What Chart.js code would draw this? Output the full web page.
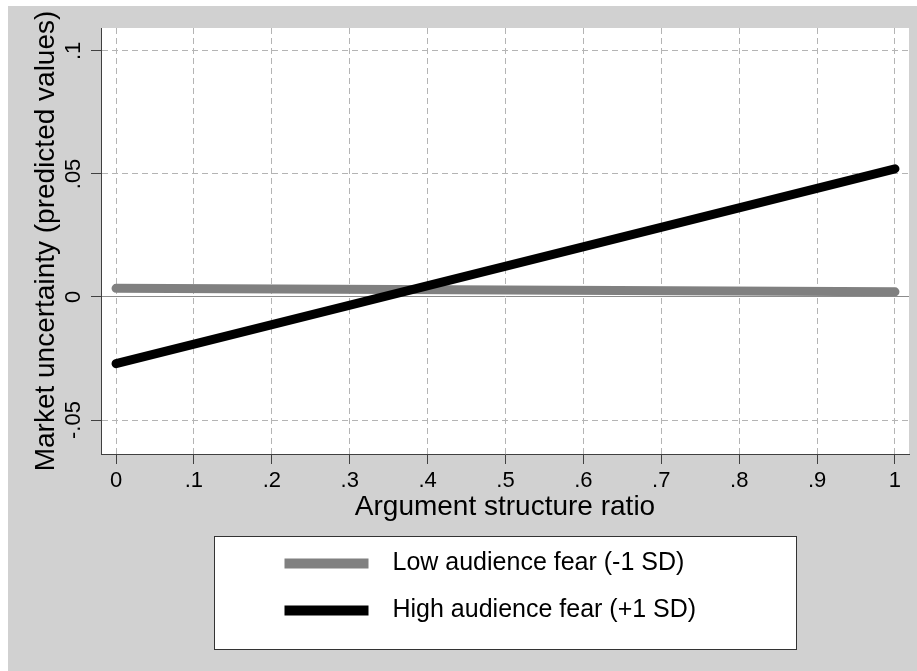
<!DOCTYPE html>
<html>
<head>
<meta charset="utf-8">
<title>Market uncertainty</title>
<script src="https://cdn.jsdelivr.net/npm/chart.js@4.4.1/dist/chart.umd.min.js"></script>
<style>
  html, body { margin: 0; padding: 0; background: #fff; }
  #wrap { position: absolute; left: 8px; top: 6px; width: 909px; height: 665px; background: #d1d1d1; }
  #chart { display: block; }
</style>
</head>
<body>
<div id="wrap"><canvas id="chart" width="909" height="665"></canvas></div>
<script>
// --- DADOS ---
const xValues = [0, 1];
const lowFear = [0.0035, 0.0021];
const highFear = [-0.0271, 0.0521];

const xTickValues = [0, 0.1, 0.2, 0.3, 0.4, 0.5, 0.6, 0.7, 0.8, 0.9, 1];
const xTickLabels = ['0', '.1', '.2', '.3', '.4', '.5', '.6', '.7', '.8', '.9', '1'];
const yTickValues = [-0.05, 0, 0.05, 0.1];
const yTickLabels = ['-.05', '0', '.05', '.1'];

const seriesNames = ['Low audience fear (-1 SD)', 'High audience fear (+1 SD)'];

const FONT = "'Liberation Sans', Arial, sans-serif";

// fundo branco só na área do gráfico
const plotBg = {
    id: 'plotBg',
    beforeDraw(chart) {
        const { ctx, chartArea: a } = chart;
        ctx.save();
        ctx.fillStyle = '#fff';
        ctx.fillRect(a.left, a.top, a.right - a.left, a.bottom - a.top);
        ctx.restore();
    }
};

// legenda em caixa, abaixo do título do eixo x
const boxLegend = {
    id: 'boxLegend',
    afterDraw(chart) {
        const { ctx, chartArea: a } = chart;
        const cx = (a.left + a.right) / 2;
        const boxW = 582, boxH = 113;
        const bx = Math.round(cx - boxW / 2) + 0.5, by = a.bottom + 82.5;
        ctx.save();
        ctx.fillStyle = '#fff';
        ctx.fillRect(bx, by, boxW, boxH);
        ctx.strokeStyle = '#333';
        ctx.lineWidth = 1;
        ctx.strokeRect(bx, by, boxW, boxH);
        ctx.font = '25px ' + FONT;
        ctx.textBaseline = 'middle';
        ctx.fillStyle = '#000';
        chart.data.datasets.forEach((ds, i) => {
            const y = by + 27 + i * 47;
            ctx.strokeStyle = ds.borderColor;
            ctx.lineWidth = 10;
            ctx.lineCap = 'butt';
            ctx.beginPath();
            ctx.moveTo(bx + 70, y);
            ctx.lineTo(bx + 154, y);
            ctx.stroke();
            ctx.fillText(ds.label, bx + 178, y);
        });
        ctx.restore();
    }
};

new Chart(document.getElementById('chart'), {
    type: 'line',
    data: {
        datasets: [
            { label: seriesNames[0], data: xValues.map((x, i) => ({ x, y: lowFear[i] })), borderColor: '#808080', borderWidth: 9, order: 1 },
            { label: seriesNames[1], data: xValues.map((x, i) => ({ x, y: highFear[i] })), borderColor: '#000', borderWidth: 9, order: 0 }
        ]
    },
    options: {
        responsive: false,
        animation: false,
        events: [],
        layout: { padding: { left: 0, top: 22, right: 8, bottom: 147 } },
        elements: {
            point: { radius: 0 },
            line: { tension: 0, borderCapStyle: 'round', fill: false }
        },
        plugins: { legend: { display: false }, tooltip: { enabled: false } },
        scales: {
            x: {
                type: 'linear',
                min: -0.0193, max: 1.018,
                afterBuildTicks: s => { s.ticks = xTickValues.map(v => ({ value: v })); },
                afterFit: s => { s.height = 70; },
                ticks: {
                    color: '#000', padding: 4, maxRotation: 0, autoSkip: false,
                    font: { family: FONT, size: 22 },
                    callback: (v, i) => xTickLabels[i]
                },
                grid: {
                    color: '#b4b4b4', lineWidth: 1, tickLength: 10,
                    tickColor: '#404040', tickWidth: 1, tickBorderDash: []
                },
                border: { display: true, color: '#404040', width: 1, dash: [6, 4] },
                title: {
                    display: true, text: 'Argument structure ratio', color: '#000',
                    font: { family: FONT, size: 28 }, padding: { top: 0, bottom: 0 }
                }
            },
            y: {
                type: 'linear',
                min: -0.0638, max: 0.1093,
                afterBuildTicks: s => { s.ticks = yTickValues.map(v => ({ value: v })); },
                afterFit: s => { s.width = 93; },
                ticks: {
                    color: '#000', padding: -2, minRotation: 90, maxRotation: 90, crossAlign: 'center',
                    font: { family: FONT, size: 22 },
                    callback: (v, i) => yTickLabels[i]
                },
                grid: {
                    color: c => (c.tick && c.tick.value === 0) ? '#8c8c8c' : '#b4b4b4',
                    lineWidth: 1, tickLength: 10,
                    tickColor: '#404040', tickWidth: 1, tickBorderDash: []
                },
                border: {
                    display: true, color: '#404040', width: 1,
                    dash: c => (c.tick && c.tick.value === 0) ? [] : [6, 4]
                },
                title: {
                    display: true, text: 'Market uncertainty (predicted values)', color: '#000',
                    font: { family: FONT, size: 28 }, padding: { top: 21, bottom: 0 }
                }
            }
        }
    },
    plugins: [plotBg, boxLegend]
});
</script>
</body>
</html>
